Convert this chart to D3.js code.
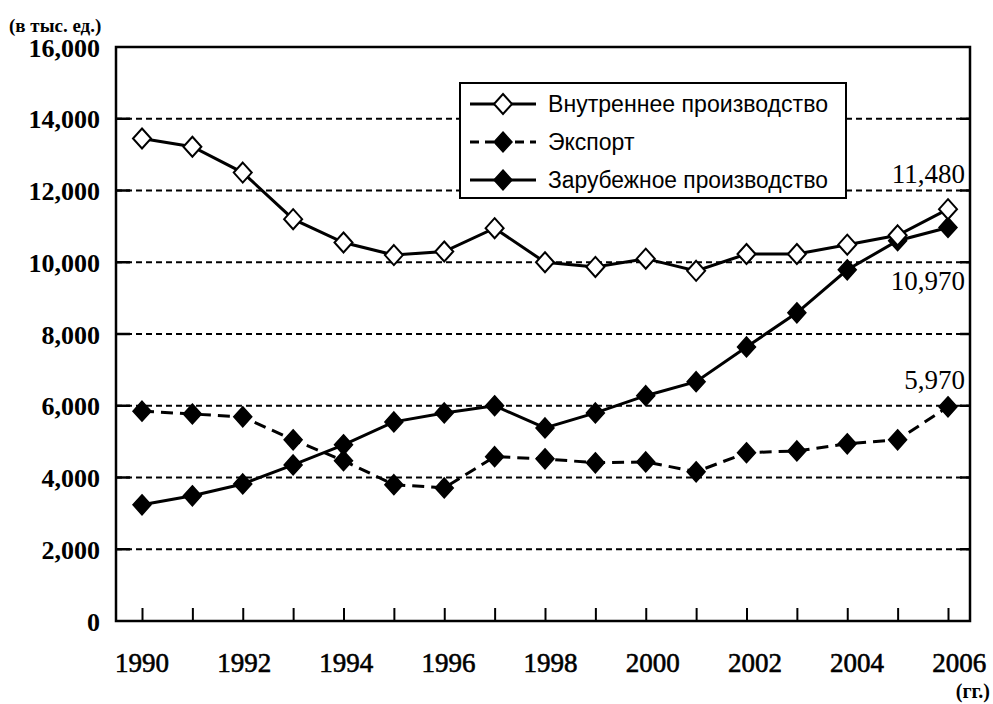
<!DOCTYPE html>
<html><head><meta charset="utf-8">
<script src="https://cdn.jsdelivr.net/npm/d3@7"></script>
<style>html,body{margin:0;padding:0;background:#fff;}svg{display:block;}</style>
</head><body>
<svg id="c" width="993" height="704"></svg>
<script>
const years = [1990,1991,1992,1993,1994,1995,1996,1997,1998,1999,2000,2001,2002,2003,2004,2005,2006];
const domestic = [13450,13220,12500,11200,10550,10200,10300,10950,10000,9870,10100,9760,10230,10230,10490,10750,11480];
const exportS = [5850,5770,5690,5050,4470,3800,3710,4580,4520,4410,4435,4160,4690,4740,4940,5050,5970];
const foreign = [3240,3490,3820,4350,4910,5550,5800,6000,5380,5800,6280,6670,7640,8590,9790,10600,10970];
const yTicks = [0,2000,4000,6000,8000,10000,12000,14000,16000];
const xTickLabels = [1990,1992,1994,1996,1998,2000,2002,2004,2006];
const seriesNames = ["Внутреннее производство","Экспорт","Зарубежное производство"];
const endLabels = ["11,480","5,970","10,970"];

const svg = d3.select("#c");
const L=116,R=970,T=47,B=621;
const x = d3.scalePoint().domain(years).range([142,948]);
const y = d3.scaleLinear().domain([0,16000]).range([B,T]);
const serif = "'Liberation Serif','Times New Roman',serif";
const sans = "'Liberation Sans',Arial,sans-serif";

// gridlines
svg.append("g").selectAll("line").data(yTicks.filter(d=>d>0&&d<16000)).join("line")
  .attr("x1",L).attr("x2",R).attr("y1",d=>y(d)).attr("y2",d=>y(d))
  .attr("stroke","#000").attr("stroke-width",2).attr("stroke-dasharray","6,4");
// y inner tick stubs
svg.append("g").selectAll("line").data(yTicks.filter(d=>d>0&&d<16000)).join("line")
  .attr("x1",L).attr("x2",L+14).attr("y1",d=>y(d)).attr("y2",d=>y(d))
  .attr("stroke","#000").attr("stroke-width",2.5);
svg.append("g").selectAll("line").data(yTicks.filter(d=>d>0&&d<16000)).join("line")
  .attr("x1",R-10).attr("x2",R).attr("y1",d=>y(d)).attr("y2",d=>y(d))
  .attr("stroke","#000").attr("stroke-width",2.5);

// x ticks (inward)
const xAxis = d3.axisBottom(x).tickSize(-13).tickFormat("");
const gx = svg.append("g").attr("transform",`translate(0,${B})`).call(xAxis);
gx.select(".domain").remove();
gx.selectAll("line").attr("stroke","#000").attr("stroke-width",2);

// frame
svg.append("rect").attr("x",L).attr("y",T).attr("width",R-L).attr("height",B-T)
  .attr("fill","none").attr("stroke","#000").attr("stroke-width",2.5);

// y labels
const yAxis = d3.axisLeft(y).tickValues(yTicks).tickSize(0).tickPadding(16)
  .tickFormat(d=>d===0?"0":d3.format(",")(d));
const gy = svg.append("g").attr("transform",`translate(${L},0)`).call(yAxis);
gy.select(".domain").remove();
gy.selectAll("text").attr("font-family",serif).attr("font-size",26).attr("font-weight","bold").attr("fill","#000")
  .attr("dy","0.35em");

// x labels
svg.append("g").selectAll("text").data(xTickLabels).join("text")
  .attr("x",d=>x(d)+(d-1990)*0.7).attr("y",672).attr("text-anchor","middle")
  .attr("font-family",serif).attr("font-size",27).attr("stroke","#000").attr("stroke-width",0.6).text(d=>d);

svg.append("text").attr("x",9).attr("y",32).attr("font-family",serif).attr("font-size",19).attr("font-weight","bold").text("(в тыс. ед.)");
svg.append("text").attr("x",990).attr("y",698).attr("text-anchor","end").attr("font-family",serif).attr("font-size",20).attr("font-weight","bold").text("(гг.)");

const line = d3.line().x((d,i)=>x(years[i])).y(d=>y(d));
const diamond = (g, cx, cy, open) => g.append("path")
  .attr("d",`M${cx},${cy-10}L${cx+9},${cy}L${cx},${cy+10}L${cx-9},${cy}Z`)
  .attr("fill",open?"#fff":"#000").attr("stroke","#000").attr("stroke-width",open?2:1.5);

const series = [
  {vals:foreign, dash:null, open:false},
  {vals:exportS, dash:"12,7", open:false},
  {vals:domestic, dash:null, open:true}
];
series.forEach(s=>{
  svg.append("path").datum(s.vals).attr("d",line).attr("fill","none").attr("stroke","#000")
    .attr("stroke-width",3).attr("stroke-dasharray",s.dash);
  const g = svg.append("g");
  s.vals.forEach((v,i)=>diamond(g,x(years[i]),y(v),s.open));
});

// end labels
svg.append("text").attr("x",965).attr("y",y(domestic[16])-26).attr("text-anchor","end").attr("font-family",serif).attr("font-size",27).text(endLabels[0]);
svg.append("text").attr("x",965).attr("y",y(foreign[16])+63).attr("text-anchor","end").attr("font-family",serif).attr("font-size",27).text(endLabels[2]);
svg.append("text").attr("x",965).attr("y",y(exportS[16])-18).attr("text-anchor","end").attr("font-family",serif).attr("font-size",27).text(endLabels[1]);

// legend
const lg = svg.append("g");
lg.append("rect").attr("x",460).attr("y",83).attr("width",386).attr("height",115).attr("fill","#fff").attr("stroke","#000").attr("stroke-width",2);
const rows = [{y:104,dash:null,open:true},{y:142,dash:"9,6",open:false},{y:180,dash:null,open:false}];
rows.forEach((r,i)=>{
  lg.append("line").attr("x1",470).attr("x2",536).attr("y1",r.y).attr("y2",r.y).attr("stroke","#000").attr("stroke-width",3).attr("stroke-dasharray",r.dash);
  diamond(lg,503,r.y,r.open);
  lg.append("text").attr("x",548).attr("y",r.y).attr("dy","0.35em").attr("font-family",sans).attr("font-size",23).attr("textLength",i===1?null:280).attr("lengthAdjust","spacingAndGlyphs").text(seriesNames[i]);
});
</script>
</body></html>
